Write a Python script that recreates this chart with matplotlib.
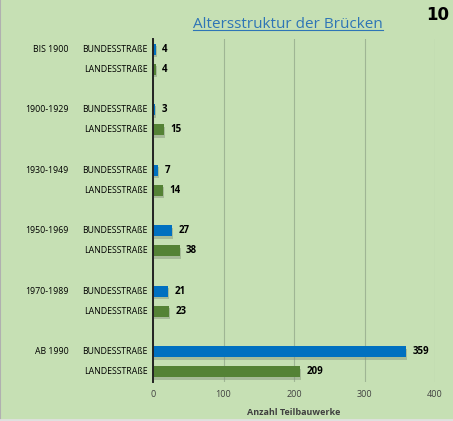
import numpy as np
import matplotlib.pyplot as plt
from matplotlib.lines import Line2D

# data
periods = ['BIS 1900', '1900-1929', '1930-1949', '1950-1969', '1970-1989', 'AB 1990']
road_types = ['BUNDESSTRAßE', 'LANDESSTRAßE']
bundes = [4, 3, 7, 27, 21, 359]
landes = [4, 15, 14, 38, 23, 209]

bg = '#C6E0B4'
blue = '#0070C0'
green = '#548235'

plt.rcParams['font.family'] = ['Open Sans', 'DejaVu Sans']

fig = plt.figure(figsize=(4.53, 4.21), dpi=100, facecolor=bg)
ax = fig.add_axes([153 / 453, 1 - 382 / 421, (435 - 153) / 453, (382 - 39) / 421])
ax.set_facecolor(bg)

# slot positions: each group = bundes, landes, blank
pos_b = np.arange(len(periods)) * 3
pos_l = pos_b + 1
h = 0.55

for pos, vals, col in [(pos_b, bundes, blue), (pos_l, landes, green)]:
    # soft shadow
    ax.barh(pos + 0.12, vals, height=h, left=1.5, color='#7f8f78', alpha=0.45,
            zorder=2, linewidth=0)
    ax.barh(pos, vals, height=h, color=col, zorder=3, linewidth=0)
    for p, v in zip(pos, vals):
        ax.text(v + 9, p, str(v), va='center', ha='left', fontsize=7,
                fontweight='bold', color='black')

ax.set_xlim(0, 400)
ax.set_ylim(16.5, -0.5)
ax.set_xticks([0, 100, 200, 300, 400])
ax.tick_params(axis='x', length=0, labelsize=6.5, colors='#404040', pad=6)
ax.set_yticks([])
ax.grid(axis='x', color='#9fb594', linewidth=0.8, zorder=0)
for s in ['top', 'right', 'bottom']:
    ax.spines[s].set_visible(False)
ax.spines['left'].set_color('#222222')
ax.spines['left'].set_linewidth(1.4)
ax.spines['left'].set_zorder(5)
ax.set_xlabel('Anzahl Teilbauwerke', fontsize=6.5, fontweight='bold',
              color='#404040', labelpad=6)

# category labels
for i, per in enumerate(periods):
    ax.text(-0.3, pos_b[i], per, transform=ax.get_yaxis_transform(),
            ha='right', va='center', fontsize=6.3, color='black', fontweight='medium')
    ax.text(-0.02, pos_b[i], road_types[0], transform=ax.get_yaxis_transform(),
            ha='right', va='center', fontsize=6.3, color='black', fontweight='medium')
    ax.text(-0.02, pos_l[i], road_types[1], transform=ax.get_yaxis_transform(),
            ha='right', va='center', fontsize=6.3, color='black', fontweight='medium')

# title with underline
t = fig.text(288 / 453, 1 - 24 / 421, 'Altersstruktur der Brücken', ha='center',
             va='center', fontsize=11, color='#2E75B6')
fig.text(438 / 453, 1 - 15 / 421, '10', ha='center', va='center', fontsize=12,
         fontweight='bold', color='black', family='Liberation Sans Narrow')

fig.canvas.draw()
bb = t.get_window_extent().transformed(fig.transFigure.inverted())
fig.add_artist(Line2D([bb.x0, bb.x1], [bb.y0 + 0.003, bb.y0 + 0.003],
                      transform=fig.transFigure, color='#2E75B6', linewidth=0.8))

# thin grey frame at left and bottom
fig.add_artist(Line2D([0.001, 0.001], [0, 1], transform=fig.transFigure,
                      color='#b0b0b0', linewidth=1.5))
fig.add_artist(Line2D([0, 1], [0.002, 0.002], transform=fig.transFigure,
                      color='#e0e0e0', linewidth=2))

fig.savefig('out.png', dpi=100, facecolor=bg)
